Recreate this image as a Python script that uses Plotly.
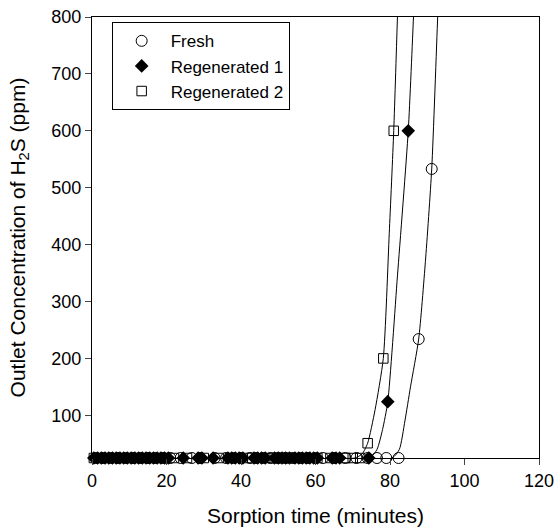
import plotly.graph_objects as go

# ---- data ----
fresh_t = [1, 3, 5, 7, 9, 11, 13, 15, 17, 19, 21, 23.8, 26.8, 29, 32.9, 36, 38, 40,
           42.4, 44, 46, 48, 50, 52, 54, 56, 58, 60, 62, 65, 68, 71, 74, 76.5, 79,
           82.3, 87.7, 91.2]
fresh_c = [25] * 36 + [234, 533]

reg1_t = [0.5, 1.5, 2.5, 3.5, 4.5, 5.5, 6.5, 7.5, 8.5, 9.5, 10.5, 11.5, 12.5, 13.5,
          14.5, 15.5, 16.5, 17.5, 18.5, 19.5, 20.5, 24.5, 28.5, 29.5, 32.5, 36.5,
          37.5, 38.5, 39.5, 40.5, 43.5, 44.5, 45.5, 46.5, 49, 50, 51, 52, 53, 54.5,
          55.5, 56.5, 57.5, 58.5, 59.5, 60.5, 64.5, 65.5, 66.5, 74.3, 79.4, 84.9]
reg1_c = [25] * 49 + [124, 600]
reg1_c = [25] * (len(reg1_t) - 2) + [124, 600]

reg2_t = [0.5, 2, 4, 6.5, 8.5, 10, 12, 13.5, 16, 18, 19.5, 22, 25.5, 30, 34, 37,
          40.5, 43, 46.5, 48.5, 50.5, 52.5, 54.5, 57, 60.5, 64, 68, 70, 72, 74.0,
          78.2, 81.0]
reg2_c = [25] * 29 + [51, 200, 600]

# fitted curves
fresh_fit_t = [0, 80.5, 82.5, 84.0, 85.5, 87.7, 89.5, 91.2, 92.8, 93.3]
fresh_fit_c = [25, 25, 40, 90, 150, 234, 370, 533, 800, 880]
reg1_fit_t = [0, 74.5, 76.5, 78.0, 79.4, 82.0, 84.9, 86.3, 86.8]
reg1_fit_c = [25, 25, 40, 75, 124, 345, 600, 800, 880]
reg2_fit_t = [0, 70.5, 72.5, 74.0, 76.0, 78.2, 79.8, 81.0, 82.0, 82.4]
reg2_fit_c = [25, 25, 32, 51, 110, 200, 420, 600, 800, 880]

x_ticks = [0, 20, 40, 60, 80, 100, 120]
y_ticks = [100, 200, 300, 400, 500, 600, 700, 800]

fig = go.Figure()

for ft, fc in [(fresh_fit_t, fresh_fit_c), (reg1_fit_t, reg1_fit_c), (reg2_fit_t, reg2_fit_c)]:
    fig.add_trace(go.Scatter(x=ft, y=fc, mode="lines", showlegend=False,
                             line=dict(color="black", width=1, shape="spline", smoothing=0.6),
                             hoverinfo="skip"))

fig.add_trace(go.Scatter(x=fresh_t, y=fresh_c, mode="markers", name="Fresh", cliponaxis=False,
                         marker=dict(symbol="circle-open", size=11, color="black",
                                     line=dict(width=1, color="black"))))
fig.add_trace(go.Scatter(x=reg1_t, y=reg1_c, mode="markers", name="Regenerated 1", cliponaxis=False,
                         marker=dict(symbol="diamond", size=10.5, color="black",
                                     line=dict(width=0, color="black"))))
fig.add_trace(go.Scatter(x=reg2_t, y=reg2_c, mode="markers", name="Regenerated 2", cliponaxis=False,
                         marker=dict(symbol="square-open", size=9.5, color="black",
                                     line=dict(width=1, color="black"))))

font = "Liberation Sans, Arial, sans-serif"
fig.update_layout(
    width=556, height=532,
    margin=dict(l=92, r=17, t=17, b=74, autoexpand=False),
    plot_bgcolor="white", paper_bgcolor="white",
    font=dict(family=font, size=18, color="black"),
    legend=dict(x=0.044, y=0.988, xanchor="left", yanchor="top",
                bordercolor="black", borderwidth=1, bgcolor="white",
                itemwidth=48,
                font=dict(size=17, family=font), tracegroupgap=0),
    xaxis=dict(range=[0, 120], tickvals=x_ticks, ticks="outside", ticklen=6,
               showline=True, linecolor="black", linewidth=1, mirror=True,
               showgrid=False, zeroline=False, automargin=False,
               title=dict(text="Sorption time (minutes)", font=dict(size=21), standoff=18)),
    yaxis=dict(range=[25, 800], tickvals=y_ticks, ticks="outside", ticklen=6,
               showline=True, linecolor="black", linewidth=1, mirror=True,
               showgrid=False, zeroline=False, automargin=False,
               title=dict(text="Outlet Concentration of H<sub>2</sub>S (ppm)", font=dict(size=21), standoff=20)),
)

fig.write_html("out.html")
